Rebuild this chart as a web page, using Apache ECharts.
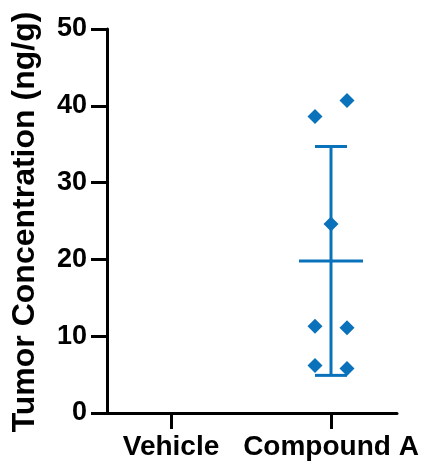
<!DOCTYPE html>
<html><head><meta charset="utf-8">
<script src="https://cdn.jsdelivr.net/npm/echarts@6/dist/echarts.min.js"></script>
<style>html,body{margin:0;padding:0;background:#fff}#c{width:426px;height:471px}</style>
</head><body><div id="c"></div>
<script>
const categories = ['Vehicle', 'Compound A'];
const yTicks = [0, 10, 20, 30, 40, 50];
// Compound A individual values and horizontal jitter (category units)
const compoundValues = [40.7, 38.6, 24.6, 11.3, 11.1, 6.2, 5.8];
const compoundJitter = [0.1, -0.1, 0, -0.1, 0.1, -0.1, 0.1];
const vehicleValues = [];
const meanValues = [null, 19.8];
const sdHigh = [null, 34.7];
const sdLow = [null, 4.9];

const blue = '#0a72bb';
const font = '"Liberation Sans", Arial, sans-serif';

const scatterData = compoundValues.map((v, i) => [1 + compoundJitter[i], v]);
const barData = [];
categories.forEach((c, i) => { if (meanValues[i] != null) barData.push([i, meanValues[i], sdLow[i], sdHigh[i]]); });

const chart = echarts.init(document.getElementById('c'), null, {renderer: 'canvas'});
chart.setOption({
  animation: false,
  grid: {left: 107, right: 29, top: 29, bottom: 58},
  xAxis: {
    type: 'value', min: -0.4, max: 1.4125,
    splitLine: {show: false},
    axisLine: {show: true, lineStyle: {color: '#000', width: 3}},
    axisTick: {show: true, length: 16, lineStyle: {color: '#000', width: 3}, customValues: [0, 1]},
    axisLabel: {customValues: [0, 1], formatter: v => categories[Math.round(v)] || '',
      color: '#000', fontFamily: font, fontWeight: 'bold', fontSize: 28, margin: 20}
  },
  yAxis: {
    type: 'value', min: 0, max: 50, interval: 10,
    splitLine: {show: false},
    axisLine: {show: true, onZero: false, lineStyle: {color: '#000', width: 3}},
    axisTick: {show: true, length: 16, lineStyle: {color: '#000', width: 3}},
    axisLabel: {color: '#000', fontFamily: font, fontWeight: 'bold', fontSize: 27, margin: 20,
      formatter: v => yTicks.includes(v) ? String(v) : ''}
  },
  graphic: [{
    type: 'text', x: 25, y: 222, rotation: Math.PI / 2,
    style: {text: 'Tumor Concentration (ng/g)', fill: '#000', font: 'bold 32px ' + font,
      textAlign: 'center', textVerticalAlign: 'middle'}
  }],
  series: [
    {
      type: 'custom', data: barData, z: 2,
      renderItem: (params, api) => {
        const x = api.value(0), m = api.value(1), lo = api.value(2), hi = api.value(3);
        const pm0 = api.coord([x - 0.2, m]), pm1 = api.coord([x + 0.2, m]);
        const pl = api.coord([x, lo]), ph = api.coord([x, hi]);
        const cl0 = api.coord([x - 0.1, lo]), cl1 = api.coord([x + 0.1, lo]);
        const ch0 = api.coord([x - 0.1, hi]), ch1 = api.coord([x + 0.1, hi]);
        const st = {stroke: blue, lineWidth: 3};
        return {type: 'group', children: [
          {type: 'line', shape: {x1: pm0[0], y1: pm0[1], x2: pm1[0], y2: pm1[1]}, style: st},
          {type: 'line', shape: {x1: pl[0], y1: pl[1], x2: ph[0], y2: ph[1]}, style: st},
          {type: 'line', shape: {x1: cl0[0], y1: cl0[1], x2: cl1[0], y2: cl1[1]}, style: st},
          {type: 'line', shape: {x1: ch0[0], y1: ch0[1], x2: ch1[0], y2: ch1[1]}, style: st}
        ]};
      }
    },
    {
      type: 'scatter', data: scatterData, symbol: 'diamond', symbolSize: 15, z: 3,
      itemStyle: {color: blue, opacity: 1}
    }
  ]
});
</script></body></html>
